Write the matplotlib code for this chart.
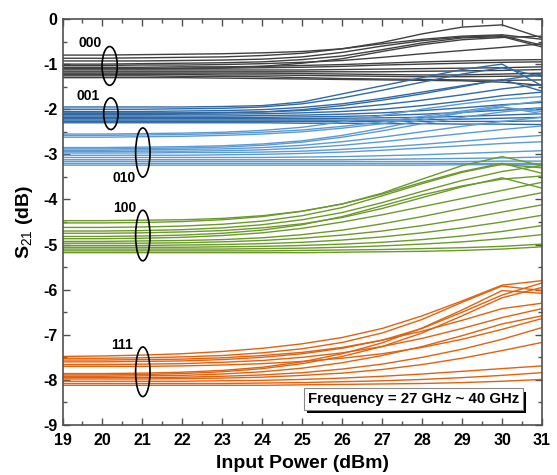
import matplotlib
matplotlib.use("Agg")
import matplotlib.pyplot as plt
from matplotlib.patches import Ellipse
import matplotlib.patheffects as pe
import numpy as np

plt.rcParams['font.family'] = ['Liberation Sans', 'DejaVu Sans']
plt.rcParams['mathtext.fontset'] = 'custom'
plt.rcParams['mathtext.rm'] = 'Liberation Sans'
plt.rcParams['mathtext.bf'] = 'Liberation Sans:bold'
plt.rcParams['axes.unicode_minus'] = False

power = [19, 20, 21, 22, 23, 24, 25, 26, 27, 28, 29, 30, 31]

state_000 = [
    [-0.80, -0.80, -0.79, -0.78, -0.77, -0.75, -0.72, -0.66, -0.52, -0.33, -0.18, -0.13, -0.42],
    [-0.87, -0.87, -0.86, -0.85, -0.84, -0.81, -0.76, -0.66, -0.55, -0.45, -0.38, -0.35, -0.45],
    [-0.93, -0.93, -0.93, -0.92, -0.91, -0.89, -0.84, -0.74, -0.60, -0.48, -0.40, -0.37, -0.58],
    [-1.00, -1.00, -0.99, -0.98, -0.97, -0.95, -0.90, -0.82, -0.68, -0.53, -0.42, -0.39, -0.62],
    [-1.03, -1.03, -1.02, -1.02, -1.01, -0.99, -0.96, -0.92, -0.85, -0.77, -0.70, -0.63, -0.55],
    [-1.07, -1.07, -1.07, -1.06, -1.06, -1.05, -1.03, -1.01, -0.98, -0.95, -0.93, -0.91, -0.90],
    [-1.10, -1.10, -1.10, -1.10, -1.09, -1.08, -1.07, -1.05, -1.02, -1.00, -0.98, -0.96, -0.95],
    [-1.13, -1.13, -1.13, -1.13, -1.13, -1.13, -1.13, -1.12, -1.11, -1.10, -1.09, -1.08, -1.06],
    [-1.17, -1.17, -1.17, -1.17, -1.17, -1.17, -1.17, -1.17, -1.17, -1.16, -1.15, -1.14, -1.12],
    [-1.20, -1.20, -1.20, -1.20, -1.20, -1.20, -1.21, -1.22, -1.23, -1.24, -1.24, -1.22, -1.20],
    [-1.23, -1.23, -1.23, -1.23, -1.24, -1.24, -1.25, -1.26, -1.27, -1.28, -1.28, -1.27, -1.26],
    [-1.26, -1.26, -1.26, -1.27, -1.27, -1.28, -1.30, -1.32, -1.33, -1.34, -1.35, -1.36, -1.35],
    [-1.30, -1.30, -1.30, -1.30, -1.31, -1.32, -1.33, -1.34, -1.35, -1.36, -1.37, -1.40, -1.47],
    [-1.10, -1.10, -1.10, -1.09, -1.08, -1.05, -0.98, -0.88, -0.72, -0.57, -0.46, -0.41, -0.38],
]

state_001 = [
    [-1.95, -1.95, -1.95, -1.95, -1.94, -1.92, -1.84, -1.66, -1.48, -1.30, -1.12, -1.00, -1.48],
    [-2.00, -2.00, -2.00, -1.99, -1.98, -1.95, -1.88, -1.75, -1.58, -1.40, -1.22, -1.08, -1.28],
    [-2.05, -2.05, -2.05, -2.04, -2.03, -2.01, -1.96, -1.88, -1.76, -1.62, -1.48, -1.35, -1.22],
    [-2.08, -2.08, -2.08, -2.08, -2.07, -2.06, -2.03, -1.98, -1.90, -1.80, -1.68, -1.55, -1.45],
    [-2.12, -2.12, -2.12, -2.11, -2.11, -2.10, -2.08, -2.05, -2.00, -1.92, -1.82, -1.70, -1.62],
    [-2.15, -2.15, -2.15, -2.15, -2.15, -2.14, -2.13, -2.11, -2.08, -2.03, -1.97, -1.90, -1.85],
    [-2.18, -2.18, -2.18, -2.18, -2.18, -2.18, -2.17, -2.16, -2.14, -2.11, -2.07, -2.02, -1.97],
    [-2.21, -2.21, -2.21, -2.21, -2.21, -2.21, -2.21, -2.20, -2.19, -2.18, -2.16, -2.13, -2.10],
    [-2.24, -2.24, -2.24, -2.24, -2.24, -2.24, -2.24, -2.24, -2.24, -2.23, -2.22, -2.20, -2.18],
    [-2.27, -2.27, -2.27, -2.27, -2.27, -2.27, -2.27, -2.27, -2.27, -2.27, -2.27, -2.27, -2.26],
    [-2.30, -2.30, -2.30, -2.30, -2.30, -2.30, -2.31, -2.31, -2.32, -2.32, -2.33, -2.33, -2.34],
    [-2.10, -2.10, -2.10, -2.09, -2.08, -2.06, -2.01, -1.92, -1.80, -1.66, -1.50, -1.34, -1.60],
]

state_010 = [
    [-2.55, -2.55, -2.54, -2.53, -2.51, -2.47, -2.40, -2.28, -2.14, -2.00, -1.88, -1.78, -1.72],
    [-2.58, -2.58, -2.57, -2.56, -2.54, -2.51, -2.46, -2.38, -2.28, -2.16, -2.04, -1.92, -1.82],
    [-2.85, -2.85, -2.84, -2.83, -2.81, -2.77, -2.70, -2.58, -2.42, -2.24, -2.08, -1.96, -2.05],
    [-2.88, -2.88, -2.87, -2.86, -2.84, -2.80, -2.73, -2.62, -2.48, -2.32, -2.18, -2.06, -1.98],
    [-2.91, -2.91, -2.90, -2.89, -2.88, -2.85, -2.80, -2.72, -2.62, -2.50, -2.38, -2.27, -2.18],
    [-2.94, -2.94, -2.93, -2.93, -2.92, -2.90, -2.86, -2.80, -2.72, -2.63, -2.54, -2.45, -2.37],
    [-2.97, -2.97, -2.97, -2.96, -2.96, -2.95, -2.93, -2.89, -2.84, -2.78, -2.71, -2.64, -2.58],
    [-3.02, -3.02, -3.02, -3.02, -3.01, -3.00, -2.98, -2.95, -2.91, -2.86, -2.81, -2.76, -2.72],
    [-3.07, -3.07, -3.07, -3.07, -3.07, -3.07, -3.06, -3.05, -3.03, -3.01, -2.98, -2.95, -2.92],
    [-3.12, -3.12, -3.12, -3.12, -3.12, -3.12, -3.12, -3.12, -3.11, -3.10, -3.09, -3.08, -3.06],
    [-3.16, -3.16, -3.16, -3.16, -3.16, -3.16, -3.16, -3.16, -3.16, -3.16, -3.16, -3.15, -3.15],
    [-3.20, -3.20, -3.20, -3.20, -3.20, -3.20, -3.20, -3.20, -3.20, -3.20, -3.20, -3.20, -3.20],
    [-3.24, -3.24, -3.24, -3.24, -3.24, -3.24, -3.24, -3.24, -3.24, -3.24, -3.23, -3.23, -3.23],
    [-2.62, -2.62, -2.61, -2.60, -2.58, -2.55, -2.50, -2.42, -2.32, -2.20, -2.07, -1.95, -2.10],
]

state_100 = [
    [-4.47, -4.47, -4.46, -4.45, -4.42, -4.36, -4.26, -4.10, -3.86, -3.55, -3.25, -3.05, -3.25],
    [-4.52, -4.52, -4.51, -4.49, -4.45, -4.38, -4.26, -4.10, -3.88, -3.62, -3.38, -3.20, -3.42],
    [-4.62, -4.62, -4.61, -4.59, -4.55, -4.48, -4.36, -4.18, -3.92, -3.65, -3.40, -3.22, -3.30],
    [-4.70, -4.70, -4.69, -4.67, -4.63, -4.56, -4.45, -4.29, -4.07, -3.82, -3.58, -3.38, -3.25],
    [-4.82, -4.82, -4.81, -4.79, -4.75, -4.68, -4.56, -4.38, -4.14, -3.90, -3.70, -3.55, -3.48],
    [-4.87, -4.87, -4.86, -4.84, -4.80, -4.74, -4.64, -4.50, -4.34, -4.16, -3.98, -3.80, -3.62],
    [-4.93, -4.93, -4.92, -4.91, -4.89, -4.85, -4.78, -4.68, -4.54, -4.38, -4.20, -4.02, -3.85],
    [-4.97, -4.97, -4.97, -4.96, -4.94, -4.91, -4.86, -4.79, -4.70, -4.58, -4.44, -4.28, -4.12],
    [-5.02, -5.02, -5.02, -5.01, -5.00, -4.98, -4.95, -4.90, -4.83, -4.74, -4.63, -4.50, -4.35],
    [-5.06, -5.06, -5.06, -5.06, -5.05, -5.04, -5.02, -4.99, -4.95, -4.89, -4.81, -4.71, -4.58],
    [-5.10, -5.10, -5.10, -5.10, -5.10, -5.09, -5.08, -5.06, -5.03, -4.99, -4.94, -4.87, -4.78],
    [-5.14, -5.14, -5.14, -5.14, -5.14, -5.14, -5.13, -5.12, -5.11, -5.09, -5.07, -5.04, -4.99],
    [-5.18, -5.18, -5.18, -5.18, -5.18, -5.18, -5.18, -5.17, -5.16, -5.15, -5.13, -5.10, -5.05],
    [-4.75, -4.75, -4.74, -4.72, -4.69, -4.63, -4.54, -4.40, -4.20, -3.96, -3.72, -3.52, -3.75],
]

state_111 = [
    [-7.48, -7.47, -7.45, -7.42, -7.37, -7.30, -7.20, -7.06, -6.86, -6.58, -6.25, -5.90, -5.80],
    [-7.52, -7.52, -7.51, -7.49, -7.46, -7.40, -7.31, -7.17, -6.96, -6.66, -6.28, -5.92, -6.02],
    [-7.60, -7.60, -7.59, -7.58, -7.55, -7.50, -7.42, -7.30, -7.12, -6.86, -6.50, -6.12, -5.85],
    [-7.66, -7.66, -7.65, -7.64, -7.61, -7.57, -7.50, -7.40, -7.26, -7.08, -6.86, -6.62, -6.42],
    [-7.70, -7.70, -7.70, -7.69, -7.67, -7.64, -7.59, -7.52, -7.42, -7.28, -7.10, -6.88, -6.64],
    [-7.86, -7.86, -7.85, -7.83, -7.79, -7.72, -7.60, -7.42, -7.18, -6.85, -6.45, -6.02, -6.08],
    [-7.89, -7.89, -7.88, -7.86, -7.82, -7.75, -7.64, -7.48, -7.26, -6.96, -6.58, -6.18, -5.95],
    [-7.92, -7.92, -7.91, -7.90, -7.87, -7.82, -7.74, -7.62, -7.46, -7.26, -7.02, -6.76, -6.58],
    [-7.95, -7.95, -7.95, -7.94, -7.92, -7.89, -7.84, -7.76, -7.65, -7.50, -7.32, -7.10, -6.84],
    [-7.98, -7.98, -7.98, -7.97, -7.96, -7.94, -7.90, -7.85, -7.77, -7.66, -7.52, -7.35, -7.17],
    [-8.03, -8.03, -8.03, -8.03, -8.02, -8.01, -7.99, -7.96, -7.92, -7.87, -7.81, -7.75, -7.69],
    [-8.08, -8.08, -8.08, -8.08, -8.08, -8.07, -8.06, -8.04, -8.02, -7.99, -7.95, -7.90, -7.84],
    [-8.12, -8.12, -8.12, -8.12, -8.12, -8.12, -8.11, -8.10, -8.09, -8.08, -8.06, -8.03, -7.99],
    [-7.56, -7.56, -7.55, -7.54, -7.51, -7.46, -7.39, -7.28, -7.12, -6.92, -6.68, -6.42, -6.30],
]

state_labels = ["000", "001", "010", "100", "111"]
state_colors = ["#404040", "#2f6aa6", "#5b9bd5", "#6b9a2b", "#e0620f"]
label_pos = [(19.68, -0.53), (19.65, -1.70), (20.55, -3.53), (20.55, -4.20), (20.50, -7.22)]
ellipses = [(20.18, -1.04, 0.38, 0.86), (20.21, -2.10, 0.36, 0.70),
            (21.01, -2.96, 0.36, 1.09), (21.01, -4.80, 0.36, 1.12),
            (21.01, -7.82, 0.36, 1.10)]

fig = plt.figure(figsize=(5.57, 4.75), dpi=100)
ax = fig.add_axes([62.5 / 557, 50 / 475, 479.5 / 557, 406 / 475])

groups = [state_000, state_001, state_010, state_100, state_111]
for curves, col in zip(groups, state_colors):
    for c in curves:
        ax.plot(power, c, color=col, lw=1.0, solid_joinstyle='miter')

for lab, (lx, ly) in zip(state_labels, label_pos):
    ax.text(lx, ly, lab, fontsize=10, fontweight='bold', ha='center', va='center')
for (ex, ey, ew, eh) in ellipses:
    ax.add_patch(Ellipse((ex, ey), ew, eh, fill=False, ec='black', lw=1.2, zorder=5))

t = ax.text(27.78, -8.42, "Frequency = 27 GHz ~ 40 GHz", fontsize=10.8, fontweight='bold',
            ha='center', va='center', zorder=6,
            bbox=dict(boxstyle='square,pad=0.25', fc='white', ec='#888888', lw=0.8))
t.get_bbox_patch().set_path_effects([pe.withSimplePatchShadow(offset=(2.5, -2.5),
                                                               shadow_rgbFace='black', alpha=1.0)])

ax.set_xlim(19, 31)
ax.set_ylim(-9, 0)
ax.set_xticks(range(19, 32))
ax.set_yticks(range(-9, 1))
ax.set_xticks(np.arange(19.5, 31, 1.0), minor=True)
ax.set_yticks(np.arange(-8.5, 0, 1.0), minor=True)
ax.tick_params(which='both', direction='in', top=True, right=True, colors='#505050',
               labelcolor='black', labelsize=11.5, width=1.0)
ax.tick_params(which='major', length=5)
ax.tick_params(which='minor', length=3)
ax.tick_params(axis='x', pad=6)
for lbl in ax.get_xticklabels() + ax.get_yticklabels():
    lbl.set_fontweight('bold')
for s in ax.spines.values():
    s.set_color('#505050')
    s.set_linewidth(1.2)

ax.set_xlabel("Input Power (dBm)", fontsize=14, fontweight='bold', labelpad=5)
ax.set_ylabel(r"S$_{21}$ (dB)", fontsize=14, fontweight='bold', labelpad=6)

fig.savefig("out.png", dpi=100)
